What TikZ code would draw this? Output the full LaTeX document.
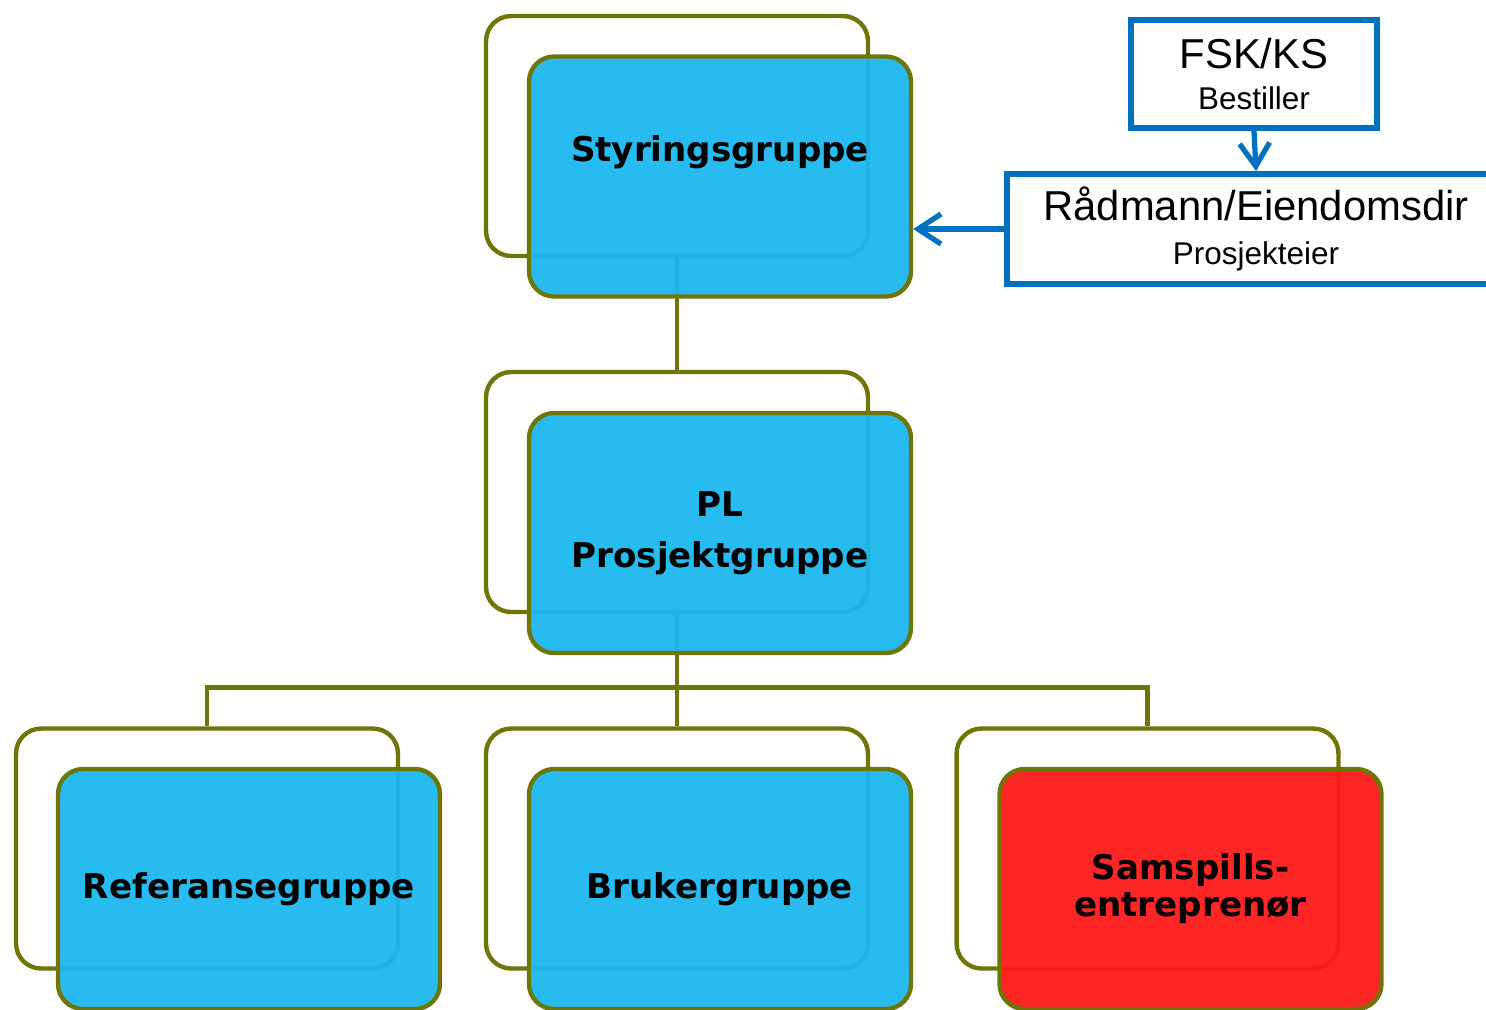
\documentclass[tikz,border=0pt]{standalone}
\usepackage{fontspec}
\setmainfont{Liberation Sans}
\newfontfamily\grpfont{DejaVu Sans}
\usetikzlibrary{arrows.meta}

\definecolor{grpolive}{RGB}{110,118,8}
\definecolor{grpcyan}{RGB}{27,183,238}
\definecolor{grpred}{RGB}{255,26,26}
\definecolor{ownerblue}{RGB}{0,112,192}

\tikzset{
    backbox/.style={draw=grpolive, line width=2.5pt, rounded corners=0.5cm,
        minimum width=7.64cm, minimum height=4.8cm, inner sep=0pt},
    frontbox/.style={backbox, fill=grpcyan, fill opacity=0.95, text opacity=1,
        align=center, font=\grpfont\bfseries\fontsize{19.4}{29}\selectfont},
    ownerbox/.style={draw=ownerblue, line width=3.4pt, inner sep=0pt, align=center,
        font=\fontsize{17.9}{23.8}\selectfont},
    link/.style={draw=grpolive, line width=2.5pt},
    pointer/.style={draw=ownerblue, line width=3pt,
        -{Straight Barb[length=0.46cm,width=0.6cm]}}
}

\begin{document}
\begin{tikzpicture}[x=0.02cm, y=-0.02cm]
    \useasboundingbox (0,0) rectangle (1486,1009);

    % back frames
    \node[backbox] (styrback) at (677,136) {};
    \node[backbox] (plback) at (677,492) {};
    \node[backbox] (refback) at (207,848.5) {};
    \node[backbox] (brukback) at (677,848.5) {};
    \node[backbox] (samback) at (1147.5,848.5) {};

    % tree lines
    \draw[link] (styrback.south) -- (plback.north);
    \draw[link] (plback.south) -- (brukback.north);
    \draw[link] (refback.north) -- ++(0,-39) -| (samback.north);

    % front boxes
    \node[frontbox] (styr) at (720,176.5) {\strut Styringsgruppe\\\strut};
    \node[frontbox] (pl) at (720,533) {PL\\Prosjektgruppe};
    \node[frontbox] (ref) at (249,889) {Referansegruppe};
    \node[frontbox] (bruk) at (720,889) {Brukergruppe};
    \node[frontbox, fill=grpred, font=\grpfont\bfseries\fontsize{19.4}{21}\selectfont]
        (sam) at (1190.5,889) {Samspills-\\entreprenør};

    % owner side
    \node[ownerbox, minimum width=4.92cm, minimum height=2.16cm] (fsk) at (1254,74)
        {{\fontsize{23.8}{23.8}\selectfont FSK/KS}\\Bestiller};
    \node[ownerbox, minimum width=9.96cm, minimum height=2.2cm] (rad) at (1256,229)
        {{\fontsize{23.8}{23.8}\selectfont Rådmann/Eiendomsdir}\\[1.5pt]Prosjekteier};

    \draw[pointer] (fsk.south) -- (rad.north);
    \draw[pointer] (rad.west) -- (rad.west -| styr.east);
\end{tikzpicture}
\end{document}
